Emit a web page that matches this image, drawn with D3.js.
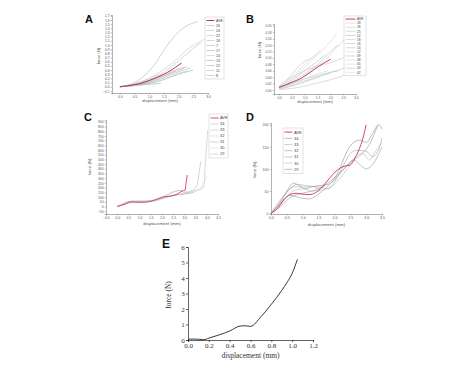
<!DOCTYPE html>
<html><head><meta charset="utf-8">
<script src="https://cdn.jsdelivr.net/npm/d3@7"></script>
<style>body{margin:0;background:#fff}svg{display:block}</style>
</head><body>
<svg id="c" width="474" height="366"></svg>
<script>
// ---------- Panel A ----------
const aLegend = ["AVE","26","24","22","18","7","17","14","13","12","11","8"];
const aXTicks = [0,0.5,1,1.5,2,2.5,3];
const aYTicks = [-0.1,0,0.1,0.2,0.3,0.4,0.5,0.6,0.7,0.8,0.9,1.0,1.1,1.2,1.3,1.4,1.5,1.6,1.7];
const aAve = [[0,0],[0.25,0.02],[0.5,0.05],[0.75,0.09],[1.0,0.15],[1.25,0.22],[1.5,0.3],[1.75,0.4],[1.9,0.47],[2.1,0.57]];
const aCurves = [
  [[0,0],[0.5,0.1],[1.0,0.38],[1.25,0.6],[1.5,0.88],[1.75,1.12],[2.0,1.32],[2.25,1.45],[2.5,1.53],[2.65,1.56]],
  [[0,0],[0.5,0.06],[1.0,0.2],[1.5,0.42],[2.0,0.7],[2.3,0.9],[2.6,1.03],[2.85,1.13],[3.05,1.2]],
  [[0,0],[0.5,0.05],[1.0,0.15],[1.5,0.35],[2.0,0.62],[2.3,0.8],[2.5,0.92],[2.75,1.05]],
  [[0,0],[0.5,0.06],[1.0,0.17],[1.5,0.3],[2.0,0.43],[2.3,0.48]],
  [[0,0],[0.5,0.04],[1.0,0.1],[1.5,0.22],[2.0,0.36],[2.4,0.45]],
  [[0,0],[0.5,0.03],[1.0,0.08],[1.5,0.18],[2.0,0.3],[2.5,0.4]],
  [[0,0],[0.5,0.08],[1.0,0.2],[1.3,0.3]],
  [[0,0],[0.5,0.03],[1.0,0.06],[1.4,0.08]],
  [[0,0],[0.5,0.04],[1.0,0.12],[1.5,0.25],[2.0,0.4],[2.2,0.45]],
  [[0,0],[0.4,0.02],[0.8,0.05],[1.2,0.1],[1.6,0.2],[2.0,0.32],[2.3,0.38]],
  [[0,0],[0.5,0.05],[1.0,0.14],[1.5,0.27],[1.9,0.38]]
];
const aColors = ["#b4b4b4","#c4c4c4","#bcbcbc","#dfa6b6","#b0b0b0","#8fb8b8","#c8c8c8","#8fbfbc","#aaaaaa","#c0c0c0","#b8b8b8"];

// ---------- Panel B ----------
const bLegend = ["AVE","28","26","25","22","18","16","14","12","09","08","05","03","02"];
const bXTicks = [0,0.5,1,1.5,2,2.5,3];
const bYTicks = [0,0.02,0.04,0.06,0.08,0.10,0.12,0.14,0.16,0.18,0.20];
const bAve = [[0,0.008],[0.25,0.016],[0.56,0.026],[0.8,0.034],[1.01,0.044],[1.25,0.057],[1.53,0.073],[1.75,0.084],[2.01,0.096]];
const bCurves = [
  [[0,0.01],[0.5,0.035],[1.0,0.07],[1.5,0.11],[2.0,0.15],[2.25,0.177]],
  [[0,0.005],[0.5,0.02],[1.0,0.045],[1.5,0.075],[2.0,0.11],[2.4,0.145],[2.75,0.172]],
  [[0,0.01],[0.3,0.03],[0.6,0.06],[1.0,0.09],[1.3,0.1],[1.6,0.125]],
  [[0,0.005],[0.5,0.03],[1.0,0.06],[1.5,0.09],[1.8,0.11]],
  [[0,0.01],[0.25,0.03],[0.5,0.04],[1.0,0.06],[1.5,0.075],[2.0,0.085],[2.5,0.1],[2.8,0.11]],
  [[0,0.003],[0.5,0.012],[1.0,0.025],[1.5,0.04],[2.0,0.055],[2.5,0.068],[2.7,0.08]],
  [[0,0.002],[0.5,0.005],[1.0,0.012],[1.5,0.022],[2.0,0.032],[2.5,0.045],[2.9,0.06]],
  [[0,0.01],[0.5,0.02],[1.0,0.035],[1.5,0.05],[1.9,0.06]],
  [[0,0.008],[0.5,0.02],[1.0,0.035],[1.5,0.045],[2.0,0.055],[2.3,0.06]],
  [[0,0.005],[0.5,0.015],[1.0,0.028],[1.6,0.04]],
  [[0,0.012],[0.5,0.04],[1.0,0.08],[1.4,0.11]],
  [[0,0.008],[0.5,0.025],[1.0,0.05],[1.5,0.08],[2.0,0.12],[2.3,0.14]],
  [[0,0.004],[0.7,0.02],[1.4,0.04],[2.0,0.05]]
];
const bColors = ["#d2d2d2","#cfcfcf","#c6c6c6","#9fc4c0","#c8c8c8","#bdbdbd","#c4c4c4","#d6d6d6","#a6c6c4","#cccccc","#d0d0d0","#c0c0c0","#dadada"];

// ---------- Panel C ----------
const cLegend = ["AVE","34","33","32","31","30","29"];
const cXTicks = [-0.5,0,0.5,1,1.5,2,2.5,3,3.5,4,4.5];
const cYTicks = d3.range(-50, 901, 50);
const cAve = [[0,0],[0.3,20],[0.6,50],[0.9,45],[1.2,45],[1.5,55],[1.8,80],[2.1,105],[2.4,110],[2.7,135],[2.9,165],[3.03,175],[3.08,260],[3.13,335]];
const cCurves = [
  [[0,0],[0.5,40],[1.0,55],[1.5,60],[2.0,80],[2.5,120],[3.0,140],[3.5,170],[3.85,200],[3.95,500],[4.04,815]],
  [[0,0],[0.5,35],[1.0,50],[1.5,60],[2.0,90],[2.5,150],[2.8,170],[3.0,150],[3.3,165],[3.55,220],[3.65,350],[3.73,480]],
  [[0,0],[0.5,50],[1.0,60],[1.5,55],[2.0,85],[2.5,120],[3.0,130],[3.5,160],[3.8,220],[4.0,320]],
  [[0,0],[0.6,45],[1.2,50],[1.8,75],[2.4,110],[3.0,135],[3.4,150]],
  [[0,0],[0.5,40],[1.0,45],[1.5,50],[1.9,70]],
  [[0,0],[0.7,60],[1.3,55],[2.0,100],[2.6,165],[2.9,170],[3.2,140]]
];
const cColors = ["#c0c0c0","#b8b8b8","#cccccc","#b4b4b4","#d0d0d0","#c4c4c4"];

// ---------- Panel D ----------
const dLegend = ["AVE","34","33","32","31","30","29"];
const dXTicks = [0,0.5,1,1.5,2,2.5,3,3.5];
const dYTicks = [0,50,100,150,200];
const dAve = [[0,0],[0.2,10],[0.4,30],[0.6,42],[0.8,45],[1.0,43],[1.2,42],[1.4,46],[1.6,58],[1.8,75],[2.1,98],[2.3,106],[2.5,109],[2.65,125],[2.77,143],[2.9,170],[3.0,200]];
const dCurves = [
  [[0,0],[0.2,15],[0.5,50],[0.7,68],[0.9,62],[1.1,55],[1.3,60],[1.5,62],[1.8,65],[2.1,90],[2.4,140],[2.6,160],[2.8,165],[3.0,160],[3.2,180],[3.4,200],[3.5,190]],
  [[0,0],[0.3,25],[0.6,55],[0.8,60],[1.0,58],[1.3,60],[1.5,55],[1.7,62]],
  [[0,0],[0.3,20],[0.6,40],[0.9,35],[1.2,32],[1.4,38],[1.7,55],[2.0,75],[2.3,100],[2.6,120],[2.8,110],[3.0,100],[3.2,110],[3.5,150]],
  [[0,0],[0.3,30],[0.6,55],[0.8,65],[1.1,62],[1.4,60],[1.6,58],[1.8,55],[2.0,70],[2.3,110],[2.5,135],[2.7,142],[3.0,140],[3.2,128],[3.4,145],[3.5,170]],
  [[0,0],[0.4,30],[0.7,50],[1.0,55],[1.3,50],[1.6,52],[2.0,65],[2.4,100],[2.7,130],[2.9,135],[3.1,120],[3.3,140],[3.5,160]],
  [[0,0],[0.3,15],[0.6,35],[1.0,45],[1.5,55],[2.0,80],[2.3,100],[2.5,115],[2.8,130],[3.1,155],[3.37,200]]
];
const dColors = ["#8e8e8e","#b0b0b0","#9a9a9a","#a4a4a4","#b8b8b8","#999999"];

// ---------- Panel E ----------
const eXTicks = [0,0.2,0.4,0.6,0.8,1.0,1.2];
const eYTicks = [0,1,2,3,4,5,6];
const eCurve = [[0,0.05],[0.05,0.06],[0.1,0.05],[0.15,0.02],[0.2,0.12],[0.3,0.33],[0.4,0.58],[0.5,0.9],[0.55,0.92],[0.6,0.88],[0.7,1.5],[0.8,2.3],[0.9,3.2],[0.95,3.7],[1.0,4.3],[1.05,5.2]];

const svg = d3.select("#c");
const SANS = "Liberation Sans, Arial, sans-serif";
const SERIF = "Liberation Serif, Times New Roman, serif";

function panel(o){
  const g = svg.append("g");
  const x = d3.scaleLinear().domain(o.xd).range(o.xr);
  const y = d3.scaleLinear().domain(o.yd).range(o.yr);
  const ax = g.append("g").attr("transform",`translate(0,${o.yr[0]})`)
    .call(d3.axisBottom(x).tickValues(o.xt).tickSize(o.ts).tickPadding(o.tp).tickFormat(o.xf));
  const ay = g.append("g").attr("transform",`translate(${o.xr[0]},0)`)
    .call(d3.axisLeft(y).tickValues(o.yt).tickSize(o.ts).tickPadding(o.tp).tickFormat(o.yf));
  [ax,ay].forEach(a=>{
    a.select(".domain").attr("stroke",o.axc).attr("stroke-width",o.aw);
    a.selectAll(".tick line").attr("stroke",o.axc).attr("stroke-width",o.aw);
    a.selectAll("text").attr("font-size",o.fs).attr("font-family",o.ff).attr("fill",o.tc);
  });
  const line = d3.line().x(d=>x(d[0])).y(d=>y(d[1])).curve(d3.curveMonotoneX);
  (o.curves||[]).forEach((c,i)=>{
    g.append("path").attr("d",line(c)).attr("fill","none")
      .attr("stroke",o.colors[i]).attr("stroke-width",o.cw||0.6);
  });
  g.append("path").attr("d",line(o.main)).attr("fill","none")
    .attr("stroke",o.mainColor).attr("stroke-width",o.mw);
  // titles
  g.append("text").attr("x",(o.xr[0]+o.xr[1])/2+(o.xlo||0)).attr("y",o.xly)
    .attr("text-anchor","middle").attr("font-size",o.tfs).attr("font-family",o.ff).attr("fill",o.tc)
    .text("displacement (mm)");
  g.append("text").attr("transform",`translate(${o.ylx},${o.yly}) rotate(-90)`)
    .attr("text-anchor","middle").attr("font-size",o.tfs).attr("font-family",o.ff).attr("fill",o.tc)
    .text(o.ylab||"force (N)");
  g.append("text").attr("x",o.lx).attr("y",o.ly).attr("font-size",o.lfs||11)
    .attr("font-weight","bold").attr("font-family",SANS).attr("fill","#111").text(o.letter);
  if(o.legend){
    const L = o.legend;
    g.append("rect").attr("x",L.x).attr("y",L.y).attr("width",L.w)
      .attr("height",L.step*o.legendItems.length+2).attr("fill","#fff")
      .attr("stroke","#bbb").attr("stroke-width",0.4);
    o.legendItems.forEach((t,i)=>{
      const yy = L.y+1+L.step*(i+0.5);
      g.append("line").attr("x1",L.x+1.5).attr("x2",L.x+1.5+L.lw).attr("y1",yy).attr("y2",yy)
        .attr("stroke", i===0?o.mainColor:o.colors[(i-1)%o.colors.length])
        .attr("stroke-width", i===0?0.9:0.6);
      g.append("text").attr("x",L.x+L.lw+3).attr("y",yy).attr("dy","0.35em")
        .attr("font-size",L.fs).attr("font-family",SANS).attr("fill","#444").text(t);
    });
  }
}

panel({xd:[-0.27,3.0],xr:[112,208],yd:[-0.15,1.72],yr:[93,15],xt:aXTicks,yt:aYTicks,
  xf:d3.format(".1f"),yf:d3.format(".1f"),ts:1.2,tp:1.2,fs:3.4,tfs:4.2,ff:SANS,tc:"#555",axc:"#666",aw:0.5,
  curves:aCurves,colors:aColors,main:aAve,mainColor:"#a8283c",mw:0.9,
  xly:102,ylx:100,yly:56,letter:"A",lx:85,ly:23,
  legend:{x:205,y:17,w:19,step:5,lw:8,fs:3.6},legendItems:aLegend});

panel({xd:[-0.2,3.0],xr:[274,356],yd:[-0.0125,0.206],yr:[94,24],xt:bXTicks,yt:bYTicks,
  xf:d3.format(".1f"),yf:d3.format(".2f"),ts:1.2,tp:1.2,fs:3.2,tfs:4.2,ff:SANS,tc:"#555",axc:"#666",aw:0.5,
  curves:bCurves,colors:bColors,main:bAve,mainColor:"#b8304e",mw:0.9,
  xly:103,ylx:261,yly:50,letter:"B",lx:246,ly:23,
  legend:{x:344,y:16,w:22,step:4.1,lw:10,fs:3.3},legendItems:bLegend});

panel({xd:[-0.5,4.5],xr:[106,218],yd:[-80,920],yr:[214,120],xt:cXTicks,yt:cYTicks,
  xf:d3.format(".1f"),yf:d3.format("d"),ts:1.2,tp:1.2,fs:3.4,tfs:4.4,ff:SANS,tc:"#555",axc:"#666",aw:0.5,
  curves:cCurves,colors:cColors,main:cAve,mainColor:"#d83a60",mw:0.9,
  xly:225,ylx:91,yly:167,letter:"C",lx:84,ly:121,
  legend:{x:209,y:114,w:19,step:6,lw:8,fs:4},legendItems:cLegend});

panel({xd:[0,3.5],xr:[271,382],yd:[-2,204],yr:[214,123],xt:dXTicks,yt:dYTicks,
  xf:d3.format(".1f"),yf:d3.format("d"),ts:1.2,tp:1.2,fs:3.6,tfs:4.4,ff:SANS,tc:"#555",axc:"#666",aw:0.5,
  curves:dCurves,colors:dColors,main:dAve,mainColor:"#d03352",mw:0.9,
  xly:226,ylx:256,yly:170,letter:"D",lx:246,ly:121,
  legend:{x:283,y:128,w:20,step:6.2,lw:8,fs:4},legendItems:dLegend});

panel({xd:[0,1.2],xr:[188,313],yd:[0,6],yr:[340,247],xt:eXTicks,yt:eYTicks,
  xf:d3.format(".1f"),yf:d3.format("d"),ts:2,tp:1.2,fs:7,tfs:7.5,ff:SERIF,tc:"#333",axc:"#222",aw:0.7,
  curves:[],colors:[],main:eCurve,mainColor:"#222",mw:0.9,
  xly:358,ylx:171,yly:295,letter:"E",lx:162,ly:248,lfs:12});
</script>
</body></html>
